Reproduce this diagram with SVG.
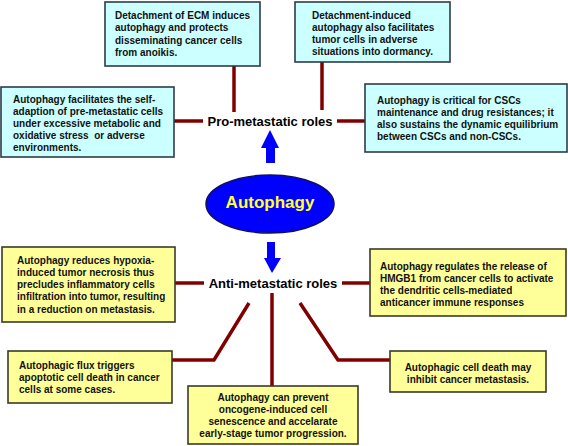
<svg xmlns="http://www.w3.org/2000/svg" width="568" height="446" viewBox="0 0 568 446">
<style>
.b{fill:#ccffff;stroke:#2e3b45;stroke-width:1.6}
.y{fill:#ffff99;stroke:#3a3a2a;stroke-width:1.6}
.t{font-family:"Liberation Sans",Arial,sans-serif;font-weight:bold;font-size:10px;fill:#111}
.c{text-anchor:middle}
.h{font-family:"Liberation Sans",Arial,sans-serif;font-weight:bold;font-size:13px;fill:#000}
.l{fill:none;stroke:#800000;stroke-width:3.5}
.a{fill:#0000ff}
</style>
<rect width="568" height="446" fill="#fff"/>
<g id="connectors">
<path class="l" d="M234 66V112"/>
<path class="l" d="M174 121H203"/>
<path class="l" d="M322 62V110"/>
<path class="l" d="M337 121H365"/>
<path class="l" d="M175 283H204"/>
<path class="l" d="M342 283H370"/>
<path class="l" d="M272 293V386"/>
<path class="l" d="M249 303L214 360H172"/>
<path class="l" d="M300 303L338 360H390"/>
<path class="a" d="M266 163V148H261L270 130L279 148H275V163Z"/>
<path class="a" d="M267 242H275V258H281L272 273L264 258H267Z"/>
</g>
<g id="autophagy">
<ellipse cx="270" cy="204" rx="64" ry="29" fill="#0000ff" stroke="#101060" stroke-width="1.5"/>
<text x="270" y="208" class="c" font-family="Liberation Sans,Arial,sans-serif" font-weight="bold" font-size="17" fill="#ffff33">Autophagy</text>
</g>
<g id="pro">
<text x="270" y="125.5" class="h c">Pro-metastatic roles</text>
</g>
<g id="anti">
<text x="273" y="287.5" class="h c">Anti-metastatic roles</text>
</g>
<g id="ecm">
<rect class="b" x="105" y="2" width="155" height="64"/>
<text class="t" x="115" y="19">Detachment of ECM induces</text>
<text class="t" x="115" y="31.3">autophagy and protects</text>
<text class="t" x="115" y="43.6">disseminating cancer cells</text>
<text class="t" x="115" y="56">from anoikis.</text>
</g>
<g id="dormancy">
<rect class="b" x="295" y="2" width="155" height="60"/>
<text class="t" x="312" y="18.5">Detachment-induced</text>
<text class="t" x="312" y="30.7">autophagy also facilitates</text>
<text class="t" x="312" y="43">tumor cells in adverse</text>
<text class="t" x="312" y="55.2">situations into dormancy.</text>
</g>
<g id="selfadapt">
<rect class="b" x="1" y="87" width="173" height="70"/>
<text class="t" x="13" y="103">Autophagy facilitates the self-</text>
<text class="t" x="13" y="115">adaption of pre-metastatic cells</text>
<text class="t" x="13" y="127">under excessive metabolic and</text>
<text class="t" x="13" y="139">oxidative stress &#160;or adverse</text>
<text class="t" x="13" y="151">environments.</text>
</g>
<g id="cscs">
<rect class="b" x="365" y="84" width="202" height="68"/>
<text class="t" x="377" y="103.5">Autophagy is critical for CSCs</text>
<text class="t" x="377" y="115.7">maintenance and drug resistances; it</text>
<text class="t" x="377" y="127.9">also sustains the dynamic equilibrium</text>
<text class="t" x="377" y="140">between CSCs and non-CSCs.</text>
</g>
<g id="hypoxia">
<rect class="y" x="2" y="247" width="173" height="75"/>
<text class="t" x="17" y="263.5">Autophagy reduces hypoxia-</text>
<text class="t" x="17" y="275.7">induced tumor necrosis thus</text>
<text class="t" x="17" y="288">precludes inflammatory cells</text>
<text class="t" x="17" y="300.2">infiltration into tumor, resulting</text>
<text class="t" x="17" y="312.5">in a reduction on metastasis.</text>
</g>
<g id="hmgb1">
<rect class="y" x="370" y="249" width="196" height="67"/>
<text class="t" x="380" y="269.5">Autophagy regulates the release of</text>
<text class="t" x="380" y="281.7">HMGB1 from cancer cells to activate</text>
<text class="t" x="380" y="293.9">the dendritic cells-mediated</text>
<text class="t" x="380" y="306">anticancer immune responses</text>
</g>
<g id="flux">
<rect class="y" x="8" y="351" width="164" height="52"/>
<text class="t" x="19" y="368.5">Autophagic flux triggers</text>
<text class="t" x="19" y="380.7">apoptotic cell death in cancer</text>
<text class="t" x="19" y="392.9">cells at some cases.</text>
</g>
<g id="senescence">
<rect class="y" x="188" y="386" width="170" height="58"/>
<text class="t c" x="273" y="400.5">Autophagy can prevent</text>
<text class="t c" x="273" y="412.7">oncogene-induced cell</text>
<text class="t c" x="273" y="424.9">senescence and accelarate</text>
<text class="t c" x="273" y="437.1">early-stage tumor progression.</text>
</g>
<g id="celldeath">
<rect class="y" x="390" y="351" width="156" height="41"/>
<text class="t c" x="468" y="370.5">Autophagic cell death may</text>
<text class="t c" x="468" y="382.7">inhibit cancer metastasis.</text>
</g>
</svg>
